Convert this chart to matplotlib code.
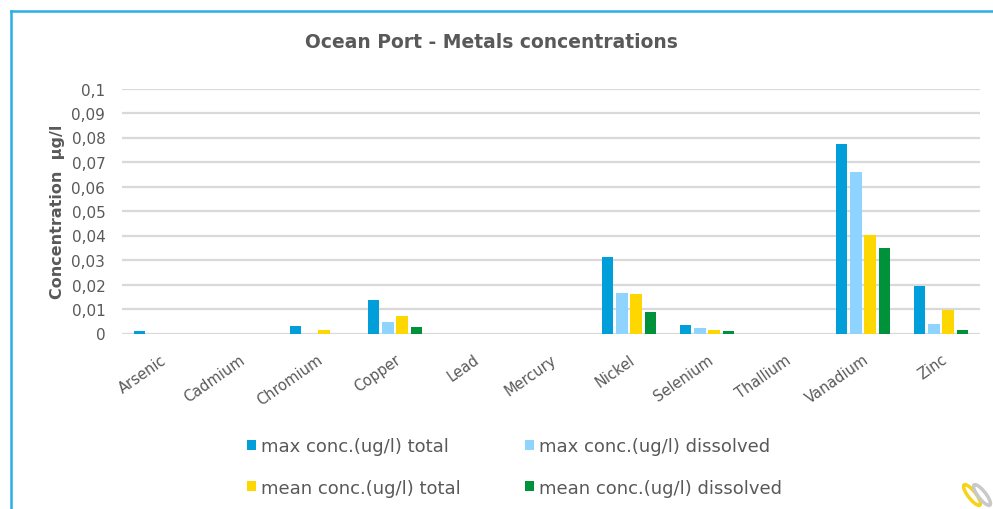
import matplotlib
matplotlib.use("Agg")
import matplotlib.pyplot as plt
from matplotlib.lines import Line2D
from matplotlib.patches import Ellipse
import numpy as np

# Metals measured at Ocean Port
metals = ["Arsenic", "Cadmium", "Chromium", "Copper", "Lead", "Mercury",
          "Nickel", "Selenium", "Thallium", "Vanadium", "Zinc"]

max_total = [0.001, 0.0, 0.0032, 0.0136, 0.0, 0.0, 0.0311, 0.0036, 0.0, 0.0773, 0.0192]
max_dissolved = [0.0, 0.0, 0.0, 0.0046, 0.0, 0.0, 0.0165, 0.0021, 0.0, 0.0658, 0.0038]
mean_total = [0.0, 0.0, 0.0014, 0.0073, 0.0, 0.0, 0.0160, 0.0014, 0.0, 0.0404, 0.0096]
mean_dissolved = [0.0, 0.0, 0.0, 0.0025, 0.0, 0.0, 0.0088, 0.0010, 0.0, 0.0348, 0.0015]

series_labels = ["max conc.(ug/l) total", "max conc.(ug/l) dissolved",
                 "mean conc.(ug/l) total", "mean conc.(ug/l) dissolved"]
series_values = [max_total, max_dissolved, mean_total, mean_dissolved]
series_colors = ["#009FDA", "#8FD3FF", "#FFD700", "#00923A"]

y_ticks = [0, 0.01, 0.02, 0.03, 0.04, 0.05, 0.06, 0.07, 0.08, 0.09, 0.1]
y_tick_labels = ["0", "0,01", "0,02", "0,03", "0,04", "0,05", "0,06",
                 "0,07", "0,08", "0,09", "0,1"]

text_gray = "#595959"
plt.rcParams["font.family"] = ["DejaVu Sans"]

W, H = 993, 510
fig = plt.figure(figsize=(W / 100, H / 100), dpi=100)
fig.patch.set_facecolor("white")

# plot area in pixel terms
left_px, right_px, top_px, bottom_px = 122, 980, 89.5, 334.5
ax = fig.add_axes([left_px / W, 1 - bottom_px / H,
                   (right_px - left_px) / W, (bottom_px - top_px) / H])

x = np.arange(len(metals))
step = 0.183
width = 0.147
handles = []
for i, (vals, col, lab) in enumerate(zip(series_values, series_colors, series_labels)):
    b = ax.bar(x + (i - 1.5) * step, vals, width=width, color=col, label=lab,
               zorder=3, edgecolor="none")
    handles.append(b)

ax.set_xlim(-0.5, len(metals) - 0.5)
ax.set_ylim(0, 0.1)
ax.set_yticks(y_ticks)
ax.set_yticklabels(y_tick_labels, color=text_gray, fontsize=11)
ax.yaxis.grid(True, color="#D9D9D9", linewidth=1.6, zorder=0)
ax.set_axisbelow(True)
for s in ax.spines.values():
    s.set_visible(False)
ax.tick_params(axis="both", length=0)
ax.tick_params(axis="y", pad=12)

ax.set_xticks(x)
ax.set_xticklabels(metals, rotation=35, ha="right", va="top",
                   rotation_mode="anchor", color=text_gray, fontsize=10.5)
ax.tick_params(axis="x", pad=13)

ax.set_ylabel("Concentration  µg/l", fontsize=11.5, fontweight="bold",
              color=text_gray)
ax.yaxis.set_label_coords(-(left_px - 65) / (right_px - left_px), 0.5)

fig.text(491 / W, 1 - 43 / H, "Ocean Port - Metals concentrations",
         ha="center", va="center", fontsize=13.5, fontweight="bold", color=text_gray)

# legend: two columns, max series on top row
order = [0, 2, 1, 3]
leg = fig.legend([handles[k] for k in order], [series_labels[k] for k in order],
                 ncol=2, loc="center left", bbox_to_anchor=(247 / W, 1 - 468 / H),
                 frameon=False, fontsize=13, handlelength=0.5, handleheight=0.5,
                 handletextpad=0.25, columnspacing=3.6, labelspacing=1.3,
                 borderpad=0, borderaxespad=0, labelcolor=text_gray)

# frame around the chart (left and top edges)
fig.add_artist(Line2D([11 / W, 11 / W], [0, 1 - 12 / H], transform=fig.transFigure,
                      color="#2AAEE6", linewidth=1.8))
fig.add_artist(Line2D([11 / W, 1.01], [1 - 12 / H, 1 - 12 / H], transform=fig.transFigure,
                      color="#2AAEE6", linewidth=1.8))

# small logo mark in the lower right corner
for cx, col in [(972, "#F5D31A"), (982, "#C9C9C9")]:
    fig.add_artist(Ellipse((cx / W, 1 - 496 / H), 9 / W, 22 / H, angle=20,
                           transform=fig.transFigure, fill=False,
                           edgecolor=col, linewidth=2.5))

fig.savefig("out.png", dpi=100, facecolor="white")
